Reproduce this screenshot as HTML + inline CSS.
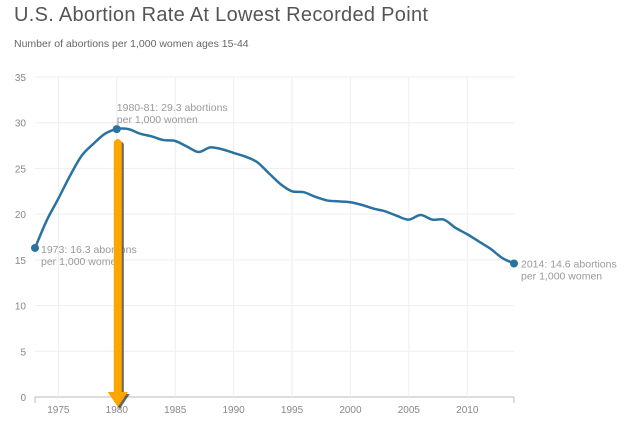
<!DOCTYPE html>
<html><head><meta charset="utf-8"><style>
body{margin:0;background:#fff;font-family:"Liberation Sans",sans-serif;}
#wrap{position:relative;width:640px;height:421px;overflow:hidden;}
h1{position:absolute;left:14px;top:4px;margin:0;font-size:20px;font-weight:normal;color:#555;letter-spacing:0.3px;}
.sub{position:absolute;left:14px;top:38px;font-size:10.5px;color:#666;}
</style></head><body>
<div id="wrap">
<h1>U.S. Abortion Rate At Lowest Recorded Point</h1>
<div class="sub">Number of abortions per 1,000 women ages 15-44</div>
<svg id="chart" width="640" height="421" style="position:absolute;left:0;top:0"></svg>
</div>
<script>
const years=[1973,1974,1975,1976,1977,1978,1979,1980,1981,1982,1983,1984,1985,1986,1987,1988,1989,1990,1991,1992,1993,1994,1995,1996,1997,1998,1999,2000,2001,2002,2003,2004,2005,2006,2007,2008,2009,2010,2011,2012,2013,2014];
const rates=[16.3,19.3,21.7,24.2,26.4,27.7,28.8,29.3,29.3,28.8,28.5,28.1,28.0,27.4,26.8,27.3,27.1,26.7,26.3,25.7,24.5,23.3,22.5,22.4,21.9,21.5,21.4,21.3,21.0,20.6,20.3,19.8,19.4,19.9,19.4,19.4,18.5,17.8,17.0,16.2,15.2,14.6];
const yTicks=[0,5,10,15,20,25,30,35];
const xTicks=[1975,1980,1985,1990,1995,2000,2005,2010];
const annotations=[{i:0,t1:"1973: 16.3 abortions",t2:"per 1,000 women",dx:6,dy:5},{i:7,t1:"1980-81: 29.3 abortions",t2:"per 1,000 women",dx:0,dy:-18},{i:41,t1:"2014: 14.6 abortions",t2:"per 1,000 women",dx:7,dy:4}];
const L=35,R=514,T=77,B=397;
const x=v=>L+(v-1973)/(2014-1973)*(R-L);
const y=v=>B-v/35*(B-T);
const svg=document.getElementById('chart');const NS='http://www.w3.org/2000/svg';
function mk(tag,attrs,parent){const e=document.createElementNS(NS,tag);for(const k in attrs)e.setAttribute(k,attrs[k]);(parent||svg).appendChild(e);return e;}
yTicks.forEach(t=>{
 const g=mk('line',{x1:L,x2:R,y1:y(t),y2:y(t),stroke:t===0?'#bbb':'#eee','stroke-width':1});
 
 
 const tx=mk('text',{x:26,y:y(t)+4,'text-anchor':'end','font-size':10,fill:'#888'});tx.textContent=t;
 
 
});
xTicks.forEach(t=>{
 const g=mk('line',{x1:x(t),x2:x(t),y1:T,y2:B,stroke:'#eee','stroke-width':1});
 
 
 const tx=mk('text',{x:x(t),y:413,'text-anchor':'middle','font-size':10,fill:'#888'});tx.textContent=t;
 
 
});
[L,R].forEach(px=>{const k=mk('line',{x1:px,x2:px,y1:B,y2:B+6,stroke:'#bbb'});});
const pts=years.map((yr,i)=>[x(yr),y(rates[i])]);
let d='M'+pts[0][0]+','+pts[0][1];
for(let i=0;i<pts.length-1;i++){const p0=pts[i-1]||pts[i],p1=pts[i],p2=pts[i+1],p3=pts[i+2]||p2;
 d+=` C${p1[0]+(p2[0]-p0[0])/6},${p1[1]+(p2[1]-p0[1])/6} ${p2[0]-(p3[0]-p1[0])/6},${p2[1]-(p3[1]-p1[1])/6} ${p2[0]},${p2[1]}`;}
const line=mk('path',{d:d,fill:'none',stroke:'#2a72a0','stroke-width':2.5});


annotations.forEach(a=>{const px=pts[a.i][0],py=pts[a.i][1];
 const c=mk('circle',{cx:px,cy:py,r:4,fill:'#2a72a0'});
 
 
 const t=mk('text',{x:px+a.dx,y:py+a.dy,'font-size':10.5,fill:'#999'});t.textContent=a.t1;
 
 
 const t2=mk('text',{x:px+a.dx,y:py+a.dy+12,'font-size':10.5,fill:'#999'});t2.textContent=a.t2;
 
 
});
const ax=x(1980)+1;
const shape=o=>`M${ax-4+o},${142+o} Q${ax+o},${136+o} ${ax+4+o},${142+o} L${ax+4+o},${392+o} L${ax+10+o},${392+o} L${ax+o},${407+o} L${ax-10+o},${392+o} L${ax-4+o},${392+o} Z`;
const sh=mk('path',{d:shape(2),fill:'#333',opacity:0.75});


const arr=mk('path',{d:shape(0),fill:'#ffa500'});


</script>
</body></html>
